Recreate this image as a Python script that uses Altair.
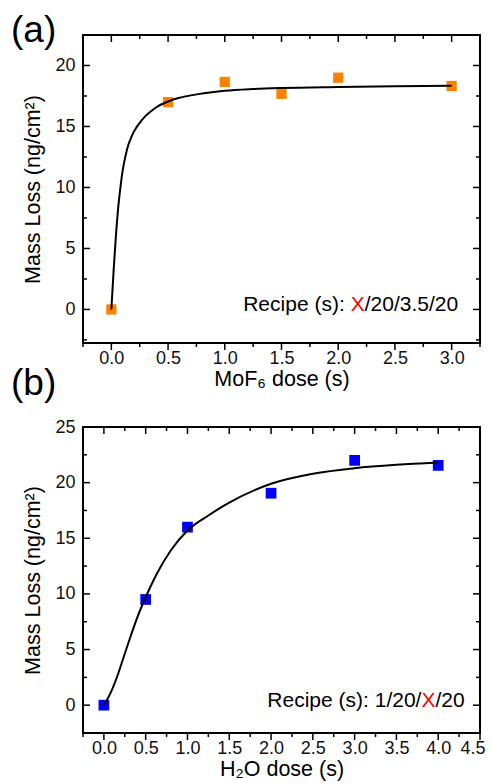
import altair as alt
import pandas as pd

FONT = "Liberation Sans"

# ---------------- Panel (a): MoF6 dose ----------------
a_dose = [0.0, 0.5, 1.0, 1.5, 2.0, 3.0]
a_loss = [0.0, 17.0, 18.65, 17.68, 19.0, 18.32]
a_fit_x = [0.0, 0.02, 0.04, 0.06, 0.08, 0.10, 0.125, 0.15, 0.175, 0.2, 0.25, 0.3,
           0.35, 0.4, 0.5, 0.6, 0.7, 0.8, 1.0, 1.25, 1.5, 2.0, 2.5, 3.0]
a_fit_y = [0.0, 3.2, 6.0, 8.3, 10.0, 11.4, 12.6, 13.5, 14.1, 14.6, 15.3, 15.85,
           16.25, 16.6, 17.05, 17.35, 17.55, 17.7, 17.93, 18.07, 18.15, 18.23, 18.29, 18.34]
a_x_major = [0.0, 0.5, 1.0, 1.5, 2.0, 2.5, 3.0]
a_x_minor = [-0.25, 0.25, 0.75, 1.25, 1.75, 2.25, 2.75, 3.25]
a_y_major = [0, 5, 10, 15, 20]
a_y_minor = [-2.5, 2.5, 7.5, 12.5, 17.5, 22.5]
a_x_domain = [-0.25, 3.25]
a_y_domain = [-2.75, 22.5]

# ---------------- Panel (b): H2O dose ----------------
b_dose = [0.0, 0.5, 1.0, 2.0, 3.0, 4.0]
b_loss = [0.0, 9.5, 16.0, 19.05, 22.0, 21.55]
b_fit_x = [0.0, 0.08, 0.16, 0.24, 0.32, 0.40, 0.5, 0.64, 0.8, 1.0, 1.25, 1.5,
           2.0, 2.5, 3.0, 3.5, 4.0]
b_fit_y = [0.0, 1.1, 2.6, 4.4, 6.2, 7.9, 9.7, 11.9, 13.9, 15.7, 17.05, 18.2,
           19.9, 20.8, 21.3, 21.6, 21.8]
b_x_major = [0.0, 0.5, 1.0, 1.5, 2.0, 2.5, 3.0, 3.5, 4.0, 4.5]
b_x_minor = [-0.25, 0.25, 0.75, 1.25, 1.75, 2.25, 2.75, 3.25, 3.75, 4.25]
b_y_major = [0, 5, 10, 15, 20, 25]
b_y_minor = [-2.5, 2.5, 7.5, 12.5, 17.5, 22.5]
b_x_domain = [-0.25, 4.5]
b_y_domain = [-2.5, 25]

Y_TITLE = "Mass Loss (ng/cm²)"
W = 397


def rules(vals, ch, scale, a, b):
    df = pd.DataFrame({"v": vals})
    if ch == "y":
        enc = dict(y=alt.Y("v:Q", scale=scale), x=alt.value(a), x2=alt.value(b))
    else:
        enc = dict(x=alt.X("v:Q", scale=scale), y=alt.value(a), y2=alt.value(b))
    return alt.Chart(df).mark_rule(color="black", strokeWidth=1.5).encode(**enc)


def panel(dose, loss, fit_x, fit_y, x_major, x_minor, y_major, y_minor,
          x_dom, y_dom, height, color, size, x_title, label, recipe, label_y,
          lab_pad, tit_pad):
    xs = alt.Scale(domain=x_dom, nice=False, zero=False)
    ys = alt.Scale(domain=y_dom, nice=False, zero=False)
    x_axis = alt.Axis(values=x_major, format=".1f", title=x_title,
                      ticks=False, tickSize=0, labelPadding=lab_pad,
                      titlePadding=tit_pad, labelFlush=1, labelFlushOffset=5,
                      labelOverlap=False)
    y_axis = alt.Axis(values=y_major, format="d", ticks=False, tickSize=0,
                      title=Y_TITLE, labelPadding=8, titlePadding=10,
                      labelFlush=False)

    pts = alt.Chart(pd.DataFrame({"dose": dose, "loss": loss})).mark_point(
        shape="square", filled=True, opacity=1, color=color, size=size
    ).encode(x=alt.X("dose:Q", scale=xs, axis=x_axis),
             y=alt.Y("loss:Q", scale=ys, axis=y_axis))

    fit = alt.Chart(pd.DataFrame({"dose": fit_x, "loss": fit_y})).mark_line(
        color="black", strokeWidth=2, interpolate="monotone"
    ).encode(x=alt.X("dose:Q", scale=xs), y=alt.Y("loss:Q", scale=ys))

    ticks = [
        rules(y_major, "y", ys, 0, 7), rules(y_minor, "y", ys, 0, 4),
        rules(y_major, "y", ys, W - 7, W), rules(y_minor, "y", ys, W - 4, W),
        rules(x_major, "x", xs, 0, 7), rules(x_minor, "x", xs, 0, 4),
        rules(x_major, "x", xs, height, height + 7),
        rules(x_minor, "x", xs, height, height + 4),
    ]

    # recipe annotation: three pieces so the "X" can be red
    rx, ry, left_txt, right_txt, ldx = recipe
    rdf = pd.DataFrame({"dose": [rx], "loss": [ry]})
    base = alt.Chart(rdf).encode(x=alt.X("dose:Q", scale=xs),
                                 y=alt.Y("loss:Q", scale=ys))
    t_left = base.mark_text(text=left_txt, align="right", baseline="alphabetic",
                            dx=ldx, font=FONT, fontSize=21, color="black")
    t_x = base.mark_text(text="X", align="center", baseline="alphabetic",
                         font=FONT, fontSize=21, color="#ff0000")
    t_right = base.mark_text(text=right_txt, align="left", baseline="alphabetic",
                             dx=7, font=FONT, fontSize=21, color="black")

    lab = alt.Chart(pd.DataFrame({"t": [label]})).mark_text(
        align="left", baseline="alphabetic", font=FONT, fontSize=37, color="black"
    ).encode(text="t:N", x=alt.value(-72), y=alt.value(label_y))

    return alt.layer(pts, fit, *ticks, t_left, t_x, t_right, lab
                     ).properties(width=W, height=height)


pa = panel(a_dose, a_loss, a_fit_x, a_fit_y, a_x_major, a_x_minor, a_y_major,
           a_y_minor, a_x_domain, a_y_domain, 308, "#ff8000", 105,
           "MoF₆ dose (s)", "(a)", (2.172, -0.1, "Recipe (s):", "/20/3.5/20", -13),
           7, 6.5, 0.5)
pb = panel(b_dose, b_loss, b_fit_x, b_fit_y, b_x_major, b_x_minor, b_y_major,
           b_y_minor, b_x_domain, b_y_domain, 306, "#0000ff", 115,
           "H₂O dose (s)", "(b)", (3.883, -0.15, "Recipe (s): 1/20/", "/20", -7),
           -32, 6.5, 0.5)

chart = alt.vconcat(pa, pb, spacing=84, bounds="flush").properties(
    padding={"left": 2, "top": 3, "right": 0, "bottom": 0}
).configure_view(stroke="black", strokeWidth=2).configure_axis(
    grid=False, domain=False, labelFont=FONT, titleFont=FONT, labelFontSize=18,
    titleFontSize=21.5, titleFontWeight="normal", labelColor="#111", titleColor="black"
)

chart.save("out.html", embed_options={"renderer": "svg", "actions": False})
